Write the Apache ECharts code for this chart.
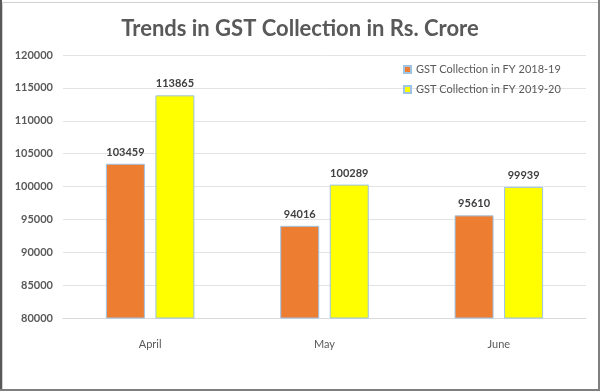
<!DOCTYPE html>
<html><head><meta charset="utf-8">
<script src="https://cdn.jsdelivr.net/npm/echarts@6/dist/echarts.min.js"></script>
<style>html,body{margin:0;padding:0;background:#fff}#c{width:600px;height:391px}</style>
</head><body><div id="c"></div>
<script>
const categories = ['April', 'May', 'June'];
const fy1819 = [103459, 94016, 95610];
const fy1920 = [113865, 100289, 99939];
const seriesNames = ['GST Collection in FY 2018-19', 'GST Collection in FY 2019-20'];
const chart = echarts.init(document.getElementById('c'));
const labelStyle = {show: true, position: 'top', color: '#404040', fontFamily: 'Lato', fontSize: 11, fontWeight: 'bold', distance: 6};
chart.setOption({
  animation: false,
  title: {text: 'Trends in GST Collection in Rs. Crore', left: 'center', top: 13,
    textStyle: {fontFamily: 'Lato', fontSize: 22, fontWeight: 'bold', color: '#595959'}},
  legend: {orient: 'vertical', left: 398, top: 59, itemWidth: 7, itemHeight: 7, itemGap: 9,
    textStyle: {fontFamily: 'Lato', fontSize: 11, color: '#595959'},
    icon: 'rect', data: seriesNames},
  grid: {left: 63, right: 14, top: 55, bottom: 73, containLabel: false},
  xAxis: {type: 'category', data: categories,
    axisLine: {lineStyle: {color: '#d9d9d9'}}, axisTick: {show: false},
    axisLabel: {color: '#595959', fontFamily: 'Lato', fontSize: 11, margin: 21}},
  yAxis: {type: 'value', min: 80000, max: 120000, interval: 5000,
    axisLine: {show: false}, axisTick: {show: false},
    splitLine: {lineStyle: {color: '#e3e3e3'}},
    axisLabel: {color: '#595959', fontFamily: 'Lato', fontSize: 11, fontWeight: 'bold', margin: 10,
      formatter: function (v) { return String(v); }}},
  series: [
    {name: seriesNames[0], type: 'bar', data: fy1819, barWidth: 39, barGap: '27%',
     itemStyle: {color: '#ED7D31', borderColor: '#9DC3E6', borderWidth: 1}, label: labelStyle},
    {name: seriesNames[1], type: 'bar', data: fy1920, barWidth: 39,
     itemStyle: {color: '#FFFF00', borderColor: '#9DC3E6', borderWidth: 1}, label: labelStyle}
  ],
  graphic: [
    {type: 'rect', left: 0, top: 0, shape: {width: 599, height: 390}, silent: true,
     style: {fill: 'none', stroke: '#d0d0d0', lineWidth: 1}},
    {type: 'line', silent: true, shape: {x1: 1, y1: 0, x2: 1, y2: 391}, style: {stroke: '#595959', lineWidth: 2}},
    {type: 'line', silent: true, shape: {x1: 0, y1: 390, x2: 600, y2: 390}, style: {stroke: '#7f7f7f', lineWidth: 2}},
    {type: 'line', silent: true, shape: {x1: 599, y1: 0, x2: 599, y2: 391}, style: {stroke: '#7f7f7f', lineWidth: 2}}
  ]
});
</script></body></html>
